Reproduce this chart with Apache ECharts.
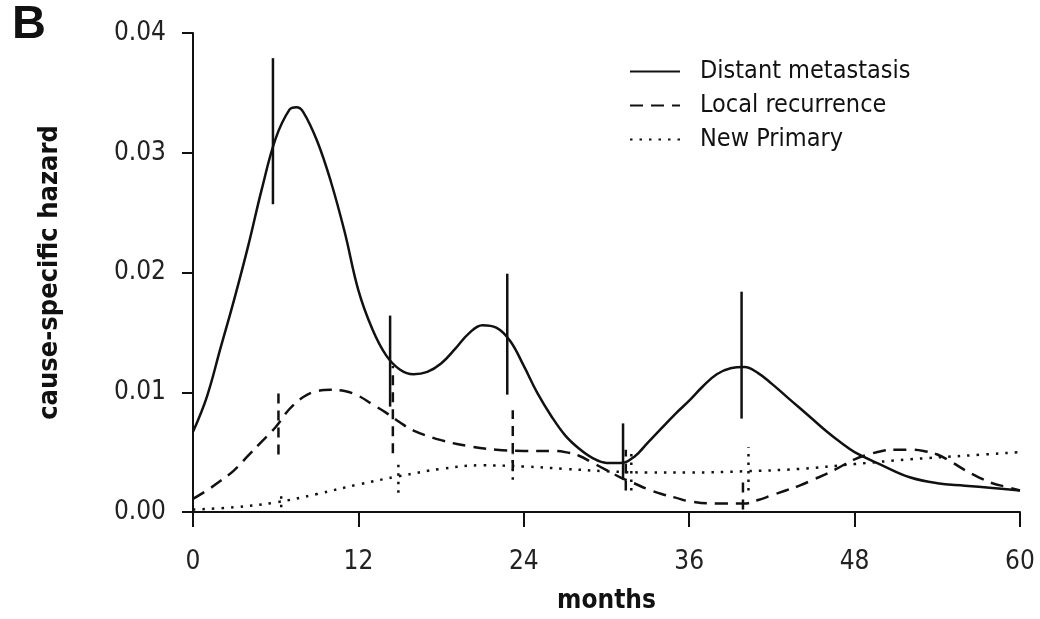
<!DOCTYPE html>
<html>
<head>
<meta charset="utf-8">
<script src="https://cdn.jsdelivr.net/npm/echarts@6/dist/echarts.min.js"></script>
<style>
  html, body { margin: 0; padding: 0; background: #fff; }
  #chart { width: 1040px; height: 619px; }
</style>
</head>
<body>
<div id="chart"></div>
<script>
// months on the x axis, hazard on the y axis
const xTicks = [0, 12, 24, 36, 48, 60]
const yTicks = [0, 0.01, 0.02, 0.03, 0.04]

// Distant metastasis (solid)
const distantX = [0, 1, 2, 3, 4, 5, 6, 7, 7.5, 8, 9, 10, 11, 12, 13, 14, 15, 16, 17, 18, 19, 20, 21, 22, 23, 24, 25, 26, 27, 28, 29, 30, 31, 32, 33, 34, 35, 36, 37, 38, 39, 40, 41, 42, 43, 44, 45, 46, 47, 48, 50, 52, 54, 56, 58, 60]
const distantY = [0.0067, 0.0096, 0.0137, 0.0178, 0.0222, 0.0270, 0.0312, 0.0336, 0.0338, 0.0334, 0.0310, 0.0276, 0.0234, 0.0185, 0.0153, 0.0131, 0.0119, 0.0115, 0.0117, 0.0124, 0.0136, 0.0149, 0.0156, 0.0154, 0.0143, 0.0122, 0.0099, 0.0080, 0.0064, 0.0053, 0.0045, 0.0041, 0.0041, 0.0046, 0.0058, 0.0070, 0.0082, 0.0093, 0.0105, 0.0115, 0.0120, 0.0121, 0.0116, 0.0107, 0.0097, 0.0087, 0.0077, 0.0067, 0.0058, 0.0050, 0.0039, 0.0029, 0.0024, 0.0022, 0.0020, 0.0018]

// Local recurrence (dashed)
const localX = [0, 1, 2, 3, 4, 5, 6, 7, 8, 9, 10, 11, 12, 13, 14, 15, 16, 18, 20, 22, 24, 26, 27, 28, 29, 30, 31, 32, 33, 34, 35, 36, 38, 40, 41, 42, 43, 44, 45, 46, 47, 48, 49, 50, 51, 52, 53, 54, 55, 56, 57, 58, 59, 60]
const localY = [0.0011, 0.0018, 0.0026, 0.0035, 0.0047, 0.0059, 0.0071, 0.0086, 0.0096, 0.0101, 0.0102, 0.0101, 0.0097, 0.0090, 0.0083, 0.0075, 0.0068, 0.0060, 0.0055, 0.0052, 0.0051, 0.0051, 0.0050, 0.0047, 0.0041, 0.0035, 0.0029, 0.0024, 0.0019, 0.0015, 0.0012, 0.0009, 0.0007, 0.0007, 0.0010, 0.0014, 0.0018, 0.0022, 0.0027, 0.0032, 0.0038, 0.0044, 0.0048, 0.0051, 0.0052, 0.0052, 0.0051, 0.0048, 0.0042, 0.0035, 0.0029, 0.0024, 0.0021, 0.0018]

// New Primary (dotted)
const newX = [0, 3, 6, 9, 12, 15, 18, 21, 24, 27, 30, 33, 36, 40, 44, 48, 52, 56, 60]
const newY = [0.0002, 0.0004, 0.0008, 0.0015, 0.0023, 0.0030, 0.0036, 0.0039, 0.0038, 0.0036, 0.0034, 0.0033, 0.0033, 0.0034, 0.0036, 0.0040, 0.0044, 0.0047, 0.0050]

// vertical interval bars
const distantBarX = [5.8, 14.3, 22.8, 31.2, 39.8]
const distantBarLo = [0.0257, 0.0088, 0.0098, 0.0027, 0.0078]
const distantBarHi = [0.0379, 0.0164, 0.0199, 0.0074, 0.0184]

const localBarX = [6.2, 14.5, 23.2, 31.4, 39.9]
const localBarLo = [0.0048, 0.0049, 0.0035, 0.0018, 0.0002]
const localBarHi = [0.0102, 0.0122, 0.0085, 0.0052, 0.0025]

const newBarX = [6.4, 14.9, 23.2, 31.8, 40.3]
const newBarLo = [0.0004, 0.0016, 0.0027, 0.0018, 0.0018]
const newBarHi = [0.0014, 0.0043, 0.0049, 0.0052, 0.0054]

const FONT = "'Liberation Sans Narrow', 'DejaVu Sans Condensed', 'Liberation Sans', sans-serif"
const INK = "#111"

const pairs = (xs, ys) => xs.map((x, i) => [x, ys[i]])

const curve = (name, xs, ys, type) => ({
  name: name,
  type: "line",
  data: pairs(xs, ys),
  smooth: 0.4,
  symbol: "none",
  lineStyle: { color: INK, width: 2.5, type: type },
  itemStyle: { color: INK },
  z: 4
})

const bars = (xs, lo, hi, dash) => ({
  type: "custom",
  silent: true,
  z: 3,
  data: xs.map((x, i) => [x, lo[i], hi[i]]),
  encode: { x: 0, y: [1, 2] },
  renderItem: (params, api) => {
    const p1 = api.coord([api.value(0), api.value(1)])
    const p2 = api.coord([api.value(0), api.value(2)])
    return {
      type: "line",
      shape: { x1: p1[0], y1: p1[1], x2: p2[0], y2: p2[1] },
      style: { stroke: INK, lineWidth: 2.5, lineDash: dash }
    }
  }
})

const chart = echarts.init(document.getElementById("chart"))
chart.setOption({
  animation: false,
  backgroundColor: "#fff",
  title: {
    text: "B",
    left: 7,
    top: -3,
    textStyle: { fontFamily: "'Liberation Sans', sans-serif", fontSize: 47, fontWeight: "bold", color: INK }
  },
  grid: { left: 193, right: 20, top: 33, bottom: 107, outerBoundsMode: "none" },
  legend: {
    data: ["Distant metastasis", "Local recurrence", "New Primary"],
    orient: "vertical",
    left: 624,
    top: 54,
    itemWidth: 50,
    itemHeight: 14,
    itemGap: 9,
    itemStyle: { opacity: 0 },
    textStyle: { fontFamily: FONT, fontSize: 25, color: INK, padding: [0, 0, 0, 15] }
  },
  xAxis: {
    type: "value",
    min: xTicks[0],
    max: xTicks[xTicks.length - 1],
    interval: 12,
    name: "months",
    nameLocation: "middle",
    nameGap: 76,
    nameTextStyle: { fontFamily: FONT, fontSize: 26, fontWeight: "bold", color: INK },
    axisLine: { lineStyle: { color: INK, width: 2 } },
    axisTick: { length: 15, lineStyle: { color: INK, width: 2 } },
    axisLabel: { margin: 37, fontFamily: FONT, fontSize: 26, color: "#222" },
    splitLine: { show: false }
  },
  yAxis: {
    type: "value",
    min: yTicks[0],
    max: yTicks[yTicks.length - 1],
    interval: 0.01,
    name: "cause-specific hazard",
    nameLocation: "middle",
    nameGap: 130,
    nameTextStyle: { fontFamily: FONT, fontSize: 27, fontWeight: "bold", color: INK },
    axisLine: { show: true, lineStyle: { color: INK, width: 2 } },
    axisTick: { show: true, length: 11, lineStyle: { color: INK, width: 2 } },
    axisLabel: { margin: 27, fontFamily: FONT, fontSize: 26, color: "#222", formatter: v => v.toFixed(2) },
    splitLine: { show: false }
  },
  series: [
    curve("Distant metastasis", distantX, distantY, "solid"),
    curve("Local recurrence", localX, localY, [13, 8]),
    curve("New Primary", newX, newY, [2.5, 7]),
    bars(distantBarX, distantBarLo, distantBarHi, null),
    bars(localBarX, localBarLo, localBarHi, [10, 7]),
    bars(newBarX, newBarLo, newBarHi, [2.5, 6])
  ]
})
</script>
</body>
</html>
